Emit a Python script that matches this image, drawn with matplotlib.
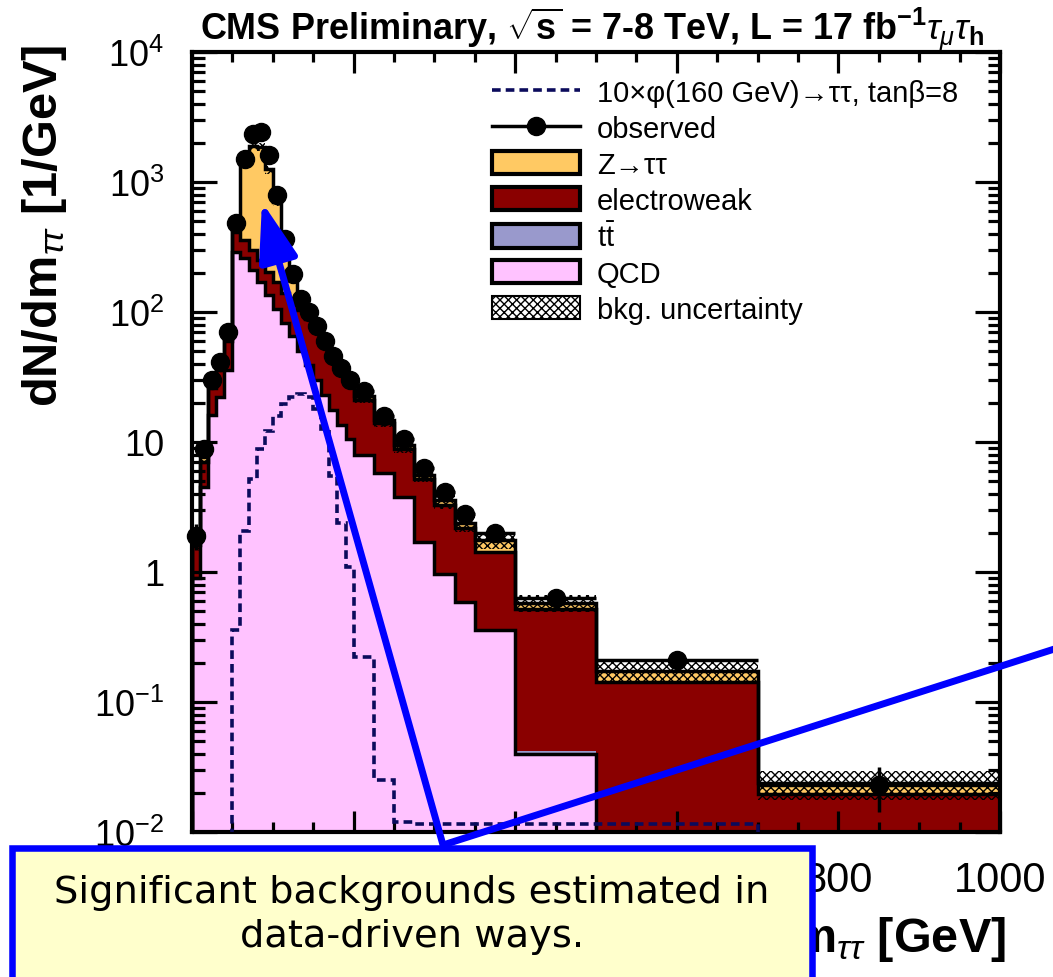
import numpy as np
import matplotlib
matplotlib.use("Agg")
import matplotlib.pyplot as plt
from matplotlib import font_manager as fm
from matplotlib.patches import FancyArrowPatch, Rectangle, Patch
from matplotlib.lines import Line2D
from matplotlib.transforms import IdentityTransform
from matplotlib.ticker import MultipleLocator, FixedLocator, FixedFormatter, LogLocator, NullFormatter

# ---------------- data (per-GeV yields) ----------------
bin_edges = [0, 10, 20, 30, 40, 50, 60, 70, 80, 90, 100, 110, 120, 130, 140, 150, 160, 170, 180, 190, 200,
             225, 250, 275, 300, 325, 350, 400, 500, 700, 1000]

observed = [1.9, 8.8, 30, 41, 70, 480, 1500, 2350, 2420, 1600, 790, 366, 197, 126, 100, 78, 60, 46, 37, 30,
            24.6, 15.8, 10.5, 6.3, 4.1, 2.8, 2.0, 0.63, 0.21, 0.023]

qcd = [0.9, 4.5, 16, 22, 36, 290, 260, 210, 170, 135, 105, 82, 65, 50, 39, 30, 23, 17.5, 13.5, 10.5,
       8.0, 5.8, 3.8, 1.7, 0.97, 0.59, 0.36, 0.04, 0.0005, 0.0001]

ttbar = [0.002, 0.01, 0.03, 0.05, 0.1, 0.3, 0.4, 0.4, 0.4, 0.4, 0.4, 0.4, 0.4, 0.35, 0.3, 0.25, 0.2, 0.15,
         0.12, 0.1, 0.08, 0.05, 0.03, 0.02, 0.012, 0.008, 0.005, 0.002, 0.0003, 0.00003]

electroweak = [0.7, 2.5, 10, 14, 24, 120, 99, 89, 79, 69, 64, 57, 52, 54, 48.5, 39.7, 31.8, 25.3, 20.4, 17.4,
               12.9, 8.1, 5.0, 3.5, 2.32, 1.6, 1.07, 0.48, 0.141, 0.0195]

ztautau = [0.2, 1.0, 3, 5, 10, 50, 1040, 1600, 1600, 1045, 530, 200, 72, 12, 6, 4, 3, 2.2, 1.7, 1.3,
           1.8, 0.9, 0.6, 0.4, 0.25, 0.18, 0.33, 0.06, 0.03, 0.004]

signal = [0.001, 0.001, 0.001, 0.001, 0.001, 0.36, 2.07, 5.2, 8.8, 12.2, 15.8, 19.6, 22.0, 23.4, 22.0, 18.0,
          12.5, 5.5, 2.4, 1.1, 0.22, 0.025, 0.012, 0.0115, 0.0115, 0.0115, 0.0115, 0.0115, 0.0115, 0.001]

bkg_unc_rel = [0.2, 0.15, 0.12, 0.1, 0.1, 0.08, 0.07, 0.07, 0.07, 0.07, 0.07, 0.08, 0.08, 0.08, 0.09, 0.09,
               0.1, 0.1, 0.1, 0.1, 0.12, 0.12, 0.12, 0.13, 0.14, 0.15, 0.15, 0.15, 0.2, 0.25]

yticks = [1e-2, 1e-1, 1, 10, 1e2, 1e3, 1e4]
ytick_labels = [r"$\mathregular{10^{-2}}$", r"$\mathregular{10^{-1}}$", "1", "10",
                r"$\mathregular{10^{2}}$", r"$\mathregular{10^{3}}$", r"$\mathregular{10^{4}}$"]
xticks = [0, 200, 400, 600, 800, 1000]
xtick_labels = ["", "", "", "", "800", "1000"]   # 0-600 are hidden under the annotation box

# ---------------- fonts ----------------
names = {f.name for f in fm.fontManager.ttflist}
def pick(*c):
    for n in c:
        if n in names:
            return n
    return "DejaVu Sans"
SANS = pick("Liberation Sans", "Arial", "DejaVu Sans")
NARROW = pick("Liberation Sans Narrow", "Liberation Sans")
BOXF = pick("DejaVu Sans Condensed", "DejaVu Sans")

plt.rcParams["font.family"] = [SANS, "DejaVu Sans"]
plt.rcParams["mathtext.fontset"] = "custom"
plt.rcParams["mathtext.rm"] = SANS
plt.rcParams["mathtext.it"] = SANS + ":italic"
plt.rcParams["mathtext.bf"] = SANS + ":bold"
plt.rcParams["hatch.linewidth"] = 1.0

W, H = 1053, 978
fig = plt.figure(figsize=(W / 100, H / 100), dpi=100)
ax = fig.add_axes([192 / W, (H - 833) / H, 808 / W, 780 / H])

edges = np.array(bin_edges, float)
centers = 0.5 * (edges[1:] + edges[:-1])
widths = edges[1:] - edges[:-1]
obs = np.array(observed)
c1 = np.array(qcd)
c2 = c1 + np.array(ttbar)
c3 = c2 + np.array(electroweak)
c4 = c3 + np.array(ztautau)
rel = np.array(bkg_unc_rel)

C_Z = "#FFC963"
C_EWK = "#8A0000"
C_TT = "#9999CC"
C_QCD = "#FFC2FF"
C_SIG = "#0B0B5C"
LW = 2.5

base = np.full_like(c1, 1e-5)
ax.stairs(c1, edges, baseline=base, fill=True, facecolor=C_QCD, edgecolor="none", zorder=1)
ax.stairs(c2, edges, baseline=c1, fill=True, facecolor=C_TT, edgecolor="none", zorder=1)
ax.stairs(c3, edges, baseline=c2, fill=True, facecolor=C_EWK, edgecolor="none", zorder=1)
ax.stairs(c4, edges, baseline=c3, fill=True, facecolor=C_Z, edgecolor="none", zorder=1)
for top in (c1, c3, c4):
    ax.stairs(top, edges, baseline=1e-5, color="black", lw=LW, zorder=2)

ax.stairs(c4 * (1 + rel), edges, baseline=c4 * (1 - rel), fill=True, facecolor="none",
          edgecolor="black", hatch="xxxx", lw=0, zorder=3)

ax.stairs(signal, edges, baseline=None, color=C_SIG, lw=2.6, ls=(0, (2.4, 1.4)), zorder=4)

yerr = np.sqrt(obs * widths) / widths
ax.errorbar(centers, obs, xerr=widths / 2, yerr=yerr, fmt="o", color="black", ms=13, lw=2.5,
            capsize=0, zorder=6, clip_on=False)

ax.set_xlim(0, 1000)
ax.set_yscale("log")
ax.set_ylim(1e-2, 1e4)
ax.xaxis.set_major_locator(FixedLocator(xticks))
ax.xaxis.set_major_formatter(FixedFormatter(xtick_labels))
ax.xaxis.set_minor_locator(MultipleLocator(50))
ax.yaxis.set_major_locator(FixedLocator(yticks))
ax.yaxis.set_major_formatter(FixedFormatter(ytick_labels))
ax.yaxis.set_minor_locator(LogLocator(base=10, subs=np.arange(2, 10)))
ax.yaxis.set_minor_formatter(NullFormatter())
ax.tick_params(which="both", direction="in", top=True, right=True, width=2.3, color="black")
ax.tick_params(axis="x", which="major", length=15, pad=20, labelsize=30)
ax.tick_params(axis="x", which="minor", length=7.5)
ax.tick_params(axis="y", which="major", length=18, pad=20, labelsize=26)
ax.tick_params(axis="y", which="minor", length=9)
for s in ax.spines.values():
    s.set_linewidth(3)

# legend
handles = [
    Line2D([], [], color=C_SIG, lw=2.6, ls=(0, (2.4, 1.4))),
    Line2D([], [], color="black", lw=2.5, marker="o", ms=13),
    Patch(facecolor=C_Z, edgecolor="black", lw=3),
    Patch(facecolor=C_EWK, edgecolor="black", lw=3),
    Patch(facecolor=C_TT, edgecolor="black", lw=3),
    Patch(facecolor=C_QCD, edgecolor="black", lw=3),
    Patch(facecolor="white", edgecolor="black", hatch="xxxx", lw=1.5),
]
labels = ["10×φ(160 GeV)→ττ, tanβ=8", "observed", "Z→ττ", "electroweak",
          r"t$\mathregular{\bar{t}}$", "QCD", "bkg. uncertainty"]
leg = ax.legend(handles, labels, loc="upper left", bbox_to_anchor=((492 - 192) / 808, (833 - 80) / 780),
                frameon=False, borderpad=0, borderaxespad=0, handlelength=3.0, handleheight=0.85,
                handletextpad=0.6, labelspacing=0.27, prop={"family": [SANS, "DejaVu Sans"], "size": 21})
leg.set_zorder(7)

renderer = fig.canvas.get_renderer()
def fit(t, target, vertical=False):
    bb = t.get_window_extent(renderer)
    cur = bb.height if vertical else bb.width
    t.set_fontsize(t.get_fontsize() * target / cur)

title = fig.text(592 / W, 1 - 29 / H,
                 r"CMS Preliminary, $\sqrt{\mathregular{s}}$ = 7-8 TeV, L = 17 fb$^{\mathregular{-1}}\tau_{\mu}\tau_{\mathregular{h}}$",
                 ha="center", va="center", fontsize=24, fontweight="bold", family=[NARROW, "DejaVu Sans"])
fit(title, 785)

ylab = fig.text(45 / W, 1 - 45 / H, r"dN/dm$_{\tau\tau}$ [1/GeV]", rotation=90, ha="center", va="top",
                fontsize=28, fontweight="bold", family=[SANS, "DejaVu Sans"])
fit(ylab, 363, vertical=True)

xlab = fig.text(1006 / W, 1 - 940 / H, r"m$_{\tau\tau}$ [GeV]", ha="right", va="center",
                fontsize=35, fontweight="bold", family=[SANS, "DejaVu Sans"])

# annotation overlay
idt = IdentityTransform()
box = Rectangle((12, -30), 800, (H - 849) + 30, transform=idt, facecolor="#FFFFCC",
                edgecolor="#0000FF", lw=4.7, zorder=20)
fig.add_artist(box)
t1 = fig.text(412 / W, 1 - 893 / H, "Significant backgrounds estimated in", ha="center", va="center",
              fontsize=24, family=[BOXF, "DejaVu Sans"], zorder=21)
fit(t1, 715)
t2 = fig.text(412 / W, 1 - 937 / H, "data-driven ways.", ha="center", va="center",
              fontsize=t1.get_fontsize(), family=[BOXF, "DejaVu Sans"], zorder=21)

line2 = Line2D([443, 1070], [H - 846, H - 645], transform=idt, color="#0000FF", lw=5,
               solid_capstyle="butt", zorder=22)
fig.add_artist(line2)
arr = FancyArrowPatch(posA=(443, H - 846), posB=(262, H - 203), transform=idt,
                      arrowstyle="-|>,head_length=36,head_width=12", mutation_scale=1,
                      color="#0000FF", lw=5, shrinkA=0, shrinkB=0, zorder=22)
fig.add_artist(arr)

fig.savefig("out.png", dpi=100)
